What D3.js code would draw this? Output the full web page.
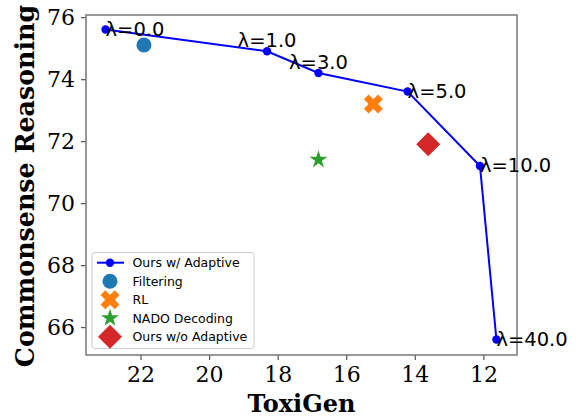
<!DOCTYPE html>
<html>
<head>
<meta charset="utf-8">
<script src="https://cdn.jsdelivr.net/npm/d3@7"></script>
<style>
 html,body{margin:0;padding:0;background:#fff;}
 svg{display:block;}
</style>
</head>
<body>
<script>
// adaptive sweep: lambda values with their (ToxiGen, commonsense) pairs
const lambdas=[0.0,1.0,3.0,5.0,10.0,40.0];
const toxigen=[23.02,18.31,16.81,14.21,12.1,11.62];
const commonsense=[75.6,74.9,74.2,73.6,71.2,65.6];

// single-point baselines
const baselines=["Filtering","RL","NADO Decoding","Ours w/o Adaptive"];
const baselineToxigen=[21.9,15.21,16.81,13.61];
const baselineCommonsense=[75.1,73.2,71.4,71.9];

const xTicks=[22,20,18,16,14,12];
const yTicks=[66,68,70,72,74,76];

const width=579,height=419;
const margin={left:86,right:62,top:15,bottom:64};

const svg=d3.select("body").append("svg").attr("width",width).attr("height",height);

// x axis reversed: lower toxicity to the right
const x=d3.scaleLinear().domain([23.59,11.02]).range([margin.left,width-margin.right]);
const y=d3.scaleLinear().domain([65.1,76.07]).range([height-margin.bottom,margin.top]);

const serif="'DejaVu Serif',serif",sans="'DejaVu Sans',sans-serif";

// axes
const xAxis=svg.append("g").attr("transform",`translate(0,${height-margin.bottom})`)
 .call(d3.axisBottom(x).tickValues(xTicks).tickFormat(d3.format("d")).tickSizeOuter(0).tickSize(5).tickPadding(6));
const yAxis=svg.append("g").attr("transform",`translate(${margin.left},0)`)
 .call(d3.axisLeft(y).tickValues(yTicks).tickFormat(d3.format("d")).tickSizeOuter(0).tickSize(5).tickPadding(6));
[xAxis,yAxis].forEach(g=>{
 g.select(".domain").remove();
 g.selectAll(".tick line").attr("stroke","#555").attr("stroke-width",1.2);
 g.selectAll(".tick text").attr("font-family",serif).attr("font-size",22).attr("fill","#000");
});

// frame
svg.append("rect").attr("x",margin.left).attr("y",margin.top)
 .attr("width",width-margin.left-margin.right).attr("height",height-margin.top-margin.bottom)
 .attr("fill","none").attr("stroke","#777").attr("stroke-width",1.5);

// axis titles
svg.append("text").attr("x",(margin.left+width-margin.right)/2).attr("y",412)
 .attr("text-anchor","middle").attr("font-family",serif).attr("font-weight","bold").attr("font-size",24)
 .text("ToxiGen");
svg.append("text").attr("transform",`translate(34,${(margin.top+height-margin.bottom)/2+1}) rotate(-90)`)
 .attr("text-anchor","middle").attr("font-family",serif).attr("font-weight","bold").attr("font-size",25.3)
 .text("Commonsense Reasoning");

const sweep=lambdas.map((l,i)=>({l,x:toxigen[i],y:commonsense[i]}));

svg.append("path").datum(sweep)
 .attr("d",d3.line().x(d=>x(d.x)).y(d=>y(d.y)))
 .attr("fill","none").attr("stroke","#0000ff").attr("stroke-width",2);
svg.selectAll("circle.sweep").data(sweep).join("circle").attr("class","sweep")
 .attr("cx",d=>x(d.x)).attr("cy",d=>y(d.y)).attr("r",4.2).attr("fill","#0000ff");

// lambda annotations; labels for 1.0 and 3.0 sit above the point, the rest to its right
const above=new Set([1,2]);
svg.selectAll("text.lam").data(sweep).join("text").attr("class","lam")
 .attr("x",d=>x(d.x)).attr("y",(d,i)=>y(d.y)+(above.has(i)?-4:0))
 .attr("text-anchor",(d,i)=>above.has(i)?"middle":"start")
 .attr("dominant-baseline",(d,i)=>above.has(i)?"auto":"central")
 .attr("font-family",sans).attr("font-size",19.5)
 .text(d=>"λ="+d.l.toFixed(1));

const styles=[
 {color:"#1f77b4",symbol:d3.symbolCircle,size:177,rotate:0},
 {color:"#ff7f0e",symbol:d3.symbolCross,size:225,rotate:45},
 {color:"#2ca02c",symbol:d3.symbolStar,size:100,rotate:0},
 {color:"#d62728",symbol:d3.symbolSquare,size:289,rotate:45}
];

svg.selectAll("path.base").data(baselines).join("path").attr("class","base")
 .attr("transform",(d,i)=>`translate(${x(baselineToxigen[i])},${y(baselineCommonsense[i])}) rotate(${styles[i].rotate})`)
 .attr("d",(d,i)=>d3.symbol(styles[i].symbol,styles[i].size)())
 .attr("fill",(d,i)=>styles[i].color);

// legend
const legend=svg.append("g");
legend.append("rect").attr("x",92).attr("y",252.5).attr("width",162).attr("height",96).attr("rx",3)
 .attr("fill","#fff").attr("fill-opacity",0.8).attr("stroke","#ccc").attr("stroke-width",1);
const rowY=i=>262.7+i*18.5;
legend.append("line").attr("x1",97).attr("x2",124).attr("y1",rowY(0)).attr("y2",rowY(0))
 .attr("stroke","#0000ff").attr("stroke-width",2);
legend.append("circle").attr("cx",110).attr("cy",rowY(0)).attr("r",4.2).attr("fill","#0000ff");
baselines.forEach((b,i)=>{
 legend.append("path").attr("transform",`translate(110,${rowY(i+1)}) rotate(${styles[i].rotate})`)
 .attr("d",d3.symbol(styles[i].symbol,styles[i].size)()).attr("fill",styles[i].color);
});
legend.selectAll("text").data(["Ours w/ Adaptive",...baselines]).join("text")
 .attr("x",132.5).attr("y",(d,i)=>rowY(i)).attr("dominant-baseline","central")
 .attr("font-family",sans).attr("font-size",12.5).text(d=>d);
</script>
</body>
</html>
